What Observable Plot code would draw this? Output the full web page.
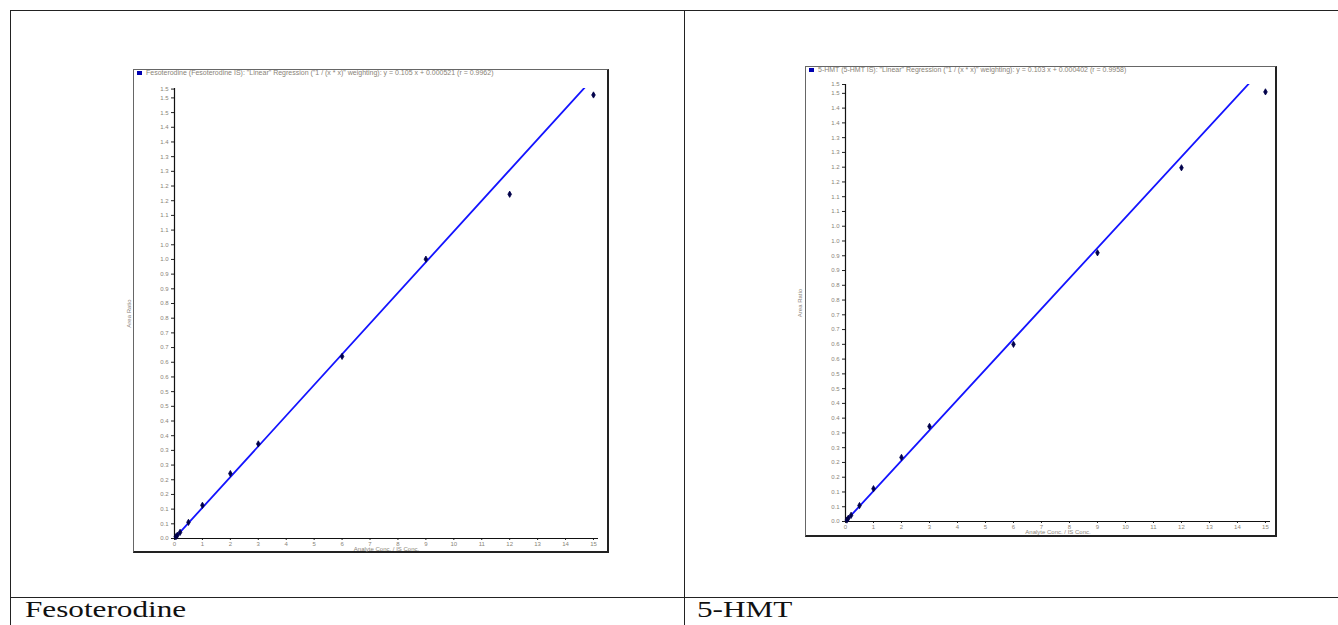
<!DOCTYPE html>
<html>
<head>
<meta charset="utf-8">
<script src="https://cdn.jsdelivr.net/npm/d3@7"></script>
<script src="https://cdn.jsdelivr.net/npm/@observablehq/plot@0.6"></script>
<style>
  html, body { margin: 0; padding: 0; background: #fff; }
  #page { position: relative; width: 1338px; height: 625px; overflow: hidden; background: #fff; }
  .hline { position: absolute; height: 1px; background: #222; }
  .vline { position: absolute; width: 1px; background: #222; }
  .frame { position: absolute; box-sizing: border-box; border-top: 1px solid #666; border-left: 1px solid #666;
           border-right: 2px solid #222; border-bottom: 2px solid #222; }
  .ttl { position: absolute; font: 7px "Liberation Sans", Arial, sans-serif; color: #8a8478; white-space: nowrap; line-height: 7px; }
  .ttl .sq { display: inline-block; width: 5px; height: 4px; background: #0000b0; margin-right: 4px; vertical-align: 0px; }
  .chart { position: absolute; }
  .cell { position: absolute; font: 24px "Liberation Serif", "Times New Roman", serif; color: #111;
          transform: scaleX(1.3); transform-origin: left top; white-space: nowrap; }
</style>
</head>
<body>
<div id="page">
  <div class="hline" style="left:10px; top:10px; width:1328px;"></div>
  <div class="hline" style="left:10px; top:597px; width:1328px;"></div>
  <div class="vline" style="left:10px; top:10px; height:615px;"></div>
  <div class="vline" style="left:684px; top:10px; height:615px;"></div>

  <div class="frame" style="left:133px; top:69px; width:476px; height:484px;"></div>
  <div class="frame" style="left:805px; top:66px; width:472px; height:471px;"></div>

  <div class="ttl" id="ttlL" style="left:137px; top:69px;"></div>
  <div class="ttl" id="ttlR" style="left:809px; top:66px;"></div>

  <div class="chart" id="chartL" style="left:120px; top:70px;"></div>
  <div class="chart" id="chartR" style="left:792px; top:67px;"></div>

  <div class="cell" id="nameL" style="left:25px; top:596px;"></div>
  <div class="cell" id="nameR" style="left:697px; top:596px;"></div>
</div>
<script>
// ---------- data ----------
const compoundNames = ["Fesoterodine", "5-HMT"];
const chartTitles = [
  'Fesoterodine (Fesoterodine IS): "Linear" Regression ("1 / (x * x)" weighting): y = 0.105 x + 0.000521 (r = 0.9962)',
  '5-HMT (5-HMT IS): "Linear" Regression ("1 / (x * x)" weighting): y = 0.103 x + 0.000402 (r = 0.9958)'
];
const xLabel = "Analyte Conc. / IS Conc.";
const yLabel = "Area Ratio";

const xTicks = [0, 1, 2, 3, 4, 5, 6, 7, 8, 9, 10, 11, 12, 13, 14, 15];

// Fesoterodine calibration points
const fesoConc  = [0.05, 0.1, 0.2, 0.5, 1, 2, 3, 6, 9, 12, 15];
const fesoRatio = [0.006, 0.011, 0.021, 0.055, 0.113, 0.221, 0.322, 0.620, 0.951, 1.172, 1.510];
const fesoSlope = 0.1045;
const fesoIntercept = 0.0005;
const fesoYTicks = [0, 0.05, 0.1, 0.15, 0.2, 0.25, 0.3, 0.35, 0.4, 0.45, 0.5, 0.55, 0.6, 0.65, 0.7, 0.75,
                    0.8, 0.85, 0.9, 0.95, 1.0, 1.05, 1.1, 1.15, 1.2, 1.25, 1.3, 1.35, 1.4, 1.45, 1.5, 1.53];
const fesoYTickLabels = ["0.0", "0.1", "0.1", "0.2", "0.2", "0.3", "0.3", "0.4", "0.4", "0.5", "0.5", "0.6", "0.6", "0.7", "0.7", "0.8",
                         "0.8", "0.9", "0.9", "1.0", "1.0", "1.1", "1.1", "1.2", "1.2", "1.3", "1.3", "1.4", "1.4", "1.5", "1.5", "1.5"];

// 5-HMT calibration points
const hmtConc  = [0.05, 0.1, 0.2, 0.5, 1, 2, 3, 6, 9, 12, 15];
const hmtRatio = [0.005, 0.011, 0.021, 0.054, 0.111, 0.217, 0.322, 0.600, 0.910, 1.198, 1.455];
const hmtSlope = 0.1029;
const hmtIntercept = 0.0004;
const hmtYTicks = [0, 0.05, 0.1, 0.15, 0.2, 0.25, 0.3, 0.35, 0.4, 0.45, 0.5, 0.55, 0.6, 0.65, 0.7, 0.75,
                   0.8, 0.85, 0.9, 0.95, 1.0, 1.05, 1.1, 1.15, 1.2, 1.25, 1.3, 1.35, 1.4, 1.45, 1.48];
const hmtYTickLabels = ["0.0", "0.1", "0.1", "0.2", "0.2", "0.3", "0.3", "0.4", "0.4", "0.5", "0.5", "0.6", "0.6", "0.7", "0.7", "0.8",
                        "0.8", "0.9", "0.9", "1.0", "1.0", "1.1", "1.1", "1.2", "1.2", "1.3", "1.3", "1.4", "1.4", "1.5", "1.5"];

// ---------- drawing ----------
function calChart({conc, ratio, slope, intercept, yTicks, yTickLabels, width, height, margins, xMax, yMax}) {
  const pts = conc.map((c, i) => ({x: c, y: ratio[i]}));
  const fit = [0, xMax].map(x => ({x, y: slope * x + intercept}));
  const lab = new Map(yTicks.map((t, i) => [t, yTickLabels[i]]));
  return Plot.plot({
    width, height,
    marginLeft: margins[0], marginRight: margins[1], marginTop: margins[2], marginBottom: margins[3],
    style: {background: "transparent", fontFamily: "Liberation Sans, Arial, sans-serif", color: "#8a8478", overflow: "visible"},
    x: {domain: [0, xMax]},
    y: {domain: [0, yMax]},
    marks: [
      Plot.axisY({ticks: yTicks, tickFormat: d => lab.get(d), tickSize: 3, tickPadding: 3, fontSize: 6,
                  stroke: "#222", fill: "#8a8478",
                  label: yLabel, labelAnchor: "center", labelOffset: 48, labelArrow: "none"}),
      Plot.axisX({ticks: xTicks, tickFormat: d => String(d), tickSize: 2, tickPadding: 1, fontSize: 6,
                  stroke: "#222", fill: "#8a8478",
                  label: xLabel, labelAnchor: "center", labelOffset: 12, labelArrow: "none"}),
      Plot.ruleX([0], {stroke: "#111", strokeWidth: 1.2}),
      Plot.ruleY([0], {stroke: "#111", strokeWidth: 1.2}),
      Plot.line(fit, {x: "x", y: "y", stroke: "#1414ff", strokeWidth: 1.8, clip: true}),
      Plot.dot(pts, {x: "x", y: "y", symbol: "diamond", r: 1.9, fill: "#00004a", stroke: "#00004a", strokeWidth: 0.8})
    ]
  });
}

document.getElementById("chartL").append(calChart({
  conc: fesoConc, ratio: fesoRatio, slope: fesoSlope, intercept: fesoIntercept,
  yTicks: fesoYTicks, yTickLabels: fesoYTickLabels,
  width: 489, height: 482, margins: [54, 11, 18, 14], xMax: 15.18, yMax: 1.532
}));
document.getElementById("chartR").append(calChart({
  conc: hmtConc, ratio: hmtRatio, slope: hmtSlope, intercept: hmtIntercept,
  yTicks: hmtYTicks, yTickLabels: hmtYTickLabels,
  width: 485, height: 469, margins: [53, 7, 17, 15], xMax: 15.18, yMax: 1.48
}));

function title(id, text) {
  const el = document.getElementById(id);
  const sq = document.createElement("span"); sq.className = "sq";
  el.append(sq, document.createTextNode(text));
}
title("ttlL", chartTitles[0]);
title("ttlR", chartTitles[1]);
document.getElementById("nameL").textContent = compoundNames[0];
document.getElementById("nameR").textContent = compoundNames[1];
</script>
</body>
</html>
